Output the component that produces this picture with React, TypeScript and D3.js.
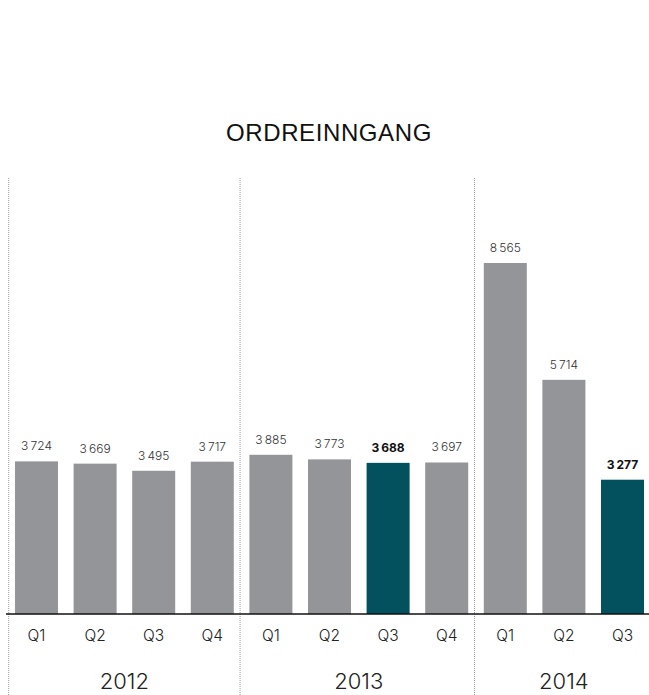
import React from "react";
import * as d3 from "d3";

const title = "ORDREINNGANG";
const years = ["2012", "2013", "2014"];
const quarters = ["Q1", "Q2", "Q3", "Q4", "Q1", "Q2", "Q3", "Q4", "Q1", "Q2", "Q3"];
const yearOf = ["2012", "2012", "2012", "2012", "2013", "2013", "2013", "2013", "2014", "2014", "2014"];
const values = [3724, 3669, 3495, 3717, 3885, 3773, 3688, 3697, 8565, 5714, 3277];
const highlighted = [false, false, false, false, false, false, true, false, false, false, true];

function App() {
  const width = 649;
  const height = 695;
  const baseY = 614;
  const gray = "#939598";
  const teal = "#03505e";
  const font = "Inter, 'Liberation Sans', sans-serif";

  const keys = values.map((_, i) => `${yearOf[i]}-${quarters[i]}`);

  const x = d3
    .scaleBand()
    .domain(keys)
    .range([7.2, 651.8])
    .paddingInner(0.266)
    .paddingOuter(0.133);

  const y = d3.scaleLinear().domain([0, 8565]).range([baseY, 263]);

  const fmt = d3.formatLocale({
    decimal: ",",
    thousands: "\u2009",
    grouping: [3],
    currency: ["", " kr"],
  }).format(",d");

  const gap = x.step() - x.bandwidth();

  // separator lines sit just left of each year's first bar
  const separators = years.map((yr, i) => {
    const first = keys.find((k) => k.startsWith(yr)) as string;
    return (x(first) as number) - gap / 2 + (i === 0 ? 1.5 : -1.5);
  });

  const yearCenter = (yr: string) => {
    const ks = keys.filter((k) => k.startsWith(yr));
    const a = x(ks[0]) as number;
    const b = (x(ks[ks.length - 1]) as number) + x.bandwidth();
    return (a + b) / 2;
  };

  return (
    <svg
      width={width}
      height={height}
      style={{ position: "absolute", left: 0, top: 0, background: "#fff" }}
    >
      <text
        x={329}
        y={141}
        textAnchor="middle"
        fontFamily="'Liberation Sans', Arial, sans-serif"
        fontSize={24}
        letterSpacing={0.6}
        fill="#111"
      >
        {title}
      </text>

      {separators.map((sx, i) => (
        <line
          key={i}
          x1={sx}
          x2={sx}
          y1={178}
          y2={height}
          stroke="#9a9a9a"
          strokeWidth={1}
          strokeDasharray="1,1"
        />
      ))}

      {values.map((v, i) => (
        <g key={keys[i]}>
          <rect
            x={x(keys[i])}
            y={y(v)}
            width={x.bandwidth()}
            height={baseY - y(v)}
            fill={highlighted[i] ? teal : gray}
          />
          <text
            x={(x(keys[i]) as number) + x.bandwidth() / 2}
            y={y(v) - 11}
            textAnchor="middle"
            fontFamily={font}
            fontSize={12}
            fontWeight={highlighted[i] ? 700 : 300}
            fill={highlighted[i] ? "#111" : "#333"}
          >
            {fmt(v)}
          </text>
          <text
            x={(x(keys[i]) as number) + x.bandwidth() / 2}
            y={641}
            textAnchor="middle"
            fontFamily={font}
            fontSize={15.5}
            fontWeight={300}
            fill="#222"
          >
            {quarters[i]}
          </text>
        </g>
      ))}

      <line x1={6} x2={width} y1={baseY} y2={baseY} stroke="#111" strokeWidth={1.5} />

      {years.map((yr) => (
        <text
          key={yr}
          x={yearCenter(yr)}
          y={689}
          textAnchor="middle"
          fontFamily={font}
          fontSize={22}
          fontWeight={300}
          fill="#222"
        >
          {yr}
        </text>
      ))}
    </svg>
  );
}

export default App;
